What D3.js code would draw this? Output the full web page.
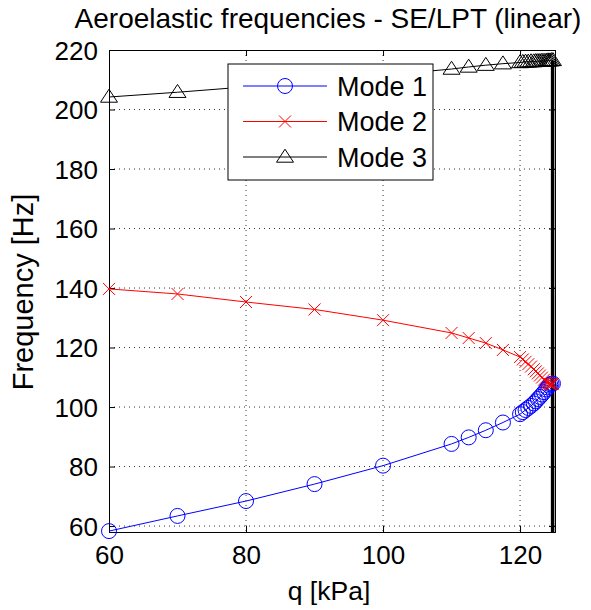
<!DOCTYPE html>
<html><head><meta charset="utf-8">
<script src="https://cdn.jsdelivr.net/npm/d3@7"></script>
<style>body{margin:0;background:#fff}svg text{font-family:"Liberation Sans",Arial,sans-serif}</style>
</head><body>
<svg id="c" width="591" height="610"></svg>
<script>
const title = "Aeroelastic frequencies - SE/LPT (linear)";
const xLabel = "q [kPa]";
const yLabel = "Frequency [Hz]";
const xTicks = [60, 80, 100, 120];
const yTicks = [60, 80, 100, 120, 140, 160, 180, 200, 220];
const seriesNames = ["Mode 1", "Mode 2", "Mode 3"];
const qValues = [60, 70, 80, 90, 100, 110, 112.5, 115, 117.5, 120, 120.4, 120.8, 121.2, 121.6, 122, 122.3, 122.6, 122.9, 123.2, 123.5, 123.8, 124, 124.2, 124.4, 124.6, 124.8];
const mode1 = [58.3, 63.4, 68.4, 74.1, 80.3, 87.6, 89.8, 92.2, 94.8, 97.6, 98.3, 99.0, 99.7, 100.4, 101.2, 101.9, 102.7, 103.4, 104.2, 105.0, 105.9, 106.6, 107.2, 107.6, 107.8, 107.9];
const mode2 = [139.7, 138.0, 135.3, 132.8, 129.2, 124.9, 123.2, 121.5, 119.2, 116.8, 116.0, 115.2, 114.4, 113.6, 112.7, 112.0, 111.3, 110.6, 109.9, 109.2, 108.6, 108.2, 107.9, 107.7, 107.7, 107.8];
const mode3 = [204.2, 205.8, 207.6, 209.5, 211.5, 213.6, 214.3, 214.9, 215.4, 215.8, 215.9, 216.0, 216.0, 216.1, 216.1, 216.2, 216.2, 216.2, 216.3, 216.3, 216.3, 216.4, 216.4, 216.4, 216.5, 216.5];
const flutterQ = [124.75, 124.75];
const flutterF = [216.3, 50];

const svg = d3.select("#c");
const L = 109, R = 555, T = 50, B = 532;
const x = d3.scaleLinear().domain([60, 125.1]).range([L, R]);
const y = d3.scaleLinear().domain([58, 220]).range([B, T]);
const FS = 26;

svg.append("clipPath").attr("id", "clip").append("rect")
  .attr("x", L).attr("y", T).attr("width", R - L).attr("height", B - T);

const grid = svg.append("g");
grid.selectAll(".gx").data(xTicks.filter(d => d > 60)).join("line")
  .attr("x1", d => x(d)).attr("x2", d => x(d)).attr("y1", T).attr("y2", B)
  .attr("stroke", "#333").attr("stroke-width", 1).attr("stroke-dasharray", "1,4");
grid.selectAll(".gy").data(yTicks.filter(d => d < 220)).join("line")
  .attr("y1", d => y(d)).attr("y2", d => y(d)).attr("x1", L).attr("x2", R)
  .attr("stroke", "#333").attr("stroke-width", 1).attr("stroke-dasharray", "1,4");

const ax = svg.append("g");
const xb = ax.append("g").attr("transform", `translate(0,${B})`)
  .call(d3.axisBottom(x).tickValues(xTicks).tickSize(-6).tickPadding(14).tickFormat(d3.format("d")));
const xt = ax.append("g").attr("transform", `translate(0,${T})`)
  .call(d3.axisTop(x).tickValues(xTicks).tickSize(-6).tickFormat(""));
const yl = ax.append("g").attr("transform", `translate(${L},0)`)
  .call(d3.axisLeft(y).tickValues(yTicks).tickSize(-6).tickPadding(11).tickFormat(d3.format("d")));
const yr = ax.append("g").attr("transform", `translate(${R},0)`)
  .call(d3.axisRight(y).tickValues(yTicks).tickSize(-6).tickFormat(""));
ax.selectAll(".domain").attr("stroke", "#000");
ax.selectAll(".tick line").attr("stroke", "#000");
ax.selectAll(".tick text").attr("font-size", FS).attr("fill", "#000")
  .attr("font-family", "Liberation Sans, Arial, sans-serif");
yl.selectAll(".tick text").attr("dy", "0.36em");

const colors = ["#0000ff", "#ff0000", "#000000"];
const all = [mode1, mode2, mode3];
const plot = svg.append("g").attr("clip-path", "url(#clip)");
const line = d3.line().x(d => x(d[0])).y(d => y(d[1]));

all.forEach((vals, i) => {
  const pts = qValues.map((q, j) => [q, vals[j]]);
  plot.append("path").datum(pts).attr("d", line).attr("fill", "none")
    .attr("stroke", colors[i]).attr("stroke-width", 1);
});

plot.append("path").datum(flutterQ.map((q, j) => [q, flutterF[j]])).attr("d", line)
  .attr("fill", "none").attr("stroke", "#000").attr("stroke-width", 3.5);

function marker(g, type, cx, cy, col) {
  if (type === 0) {
    g.append("circle").attr("cx", cx).attr("cy", cy).attr("r", 7.5)
      .attr("fill", "none").attr("stroke", col).attr("stroke-width", 1);
  } else if (type === 1) {
    const s = 6;
    g.append("path").attr("d", `M${cx - s},${cy - s}L${cx + s},${cy + s}M${cx - s},${cy + s}L${cx + s},${cy - s}`)
      .attr("stroke", col).attr("stroke-width", 1).attr("fill", "none");
  } else {
    const w = 8.5, h = 13;
    g.append("path").attr("d", `M${cx},${cy - h * 0.6}L${cx + w},${cy + h * 0.4}L${cx - w},${cy + h * 0.4}Z`)
      .attr("stroke", col).attr("stroke-width", 1).attr("fill", "none");
  }
}
const mk = svg.append("g");
all.forEach((vals, i) => {
  qValues.forEach((q, j) => marker(mk, i, x(q), y(vals[j]), colors[i]));
});

const lg = svg.append("g");
lg.append("rect").attr("x", 228).attr("y", 64).attr("width", 205).attr("height", 116)
  .attr("fill", "#fff").attr("stroke", "#000").attr("stroke-width", 1);
seriesNames.forEach((n, i) => {
  const yy = 86 + i * 35.5;
  lg.append("line").attr("x1", 243).attr("x2", 327).attr("y1", yy).attr("y2", yy)
    .attr("stroke", colors[i]).attr("stroke-width", 1);
  marker(lg, i, 285, yy, colors[i]);
  lg.append("text").attr("x", 337).attr("y", yy).attr("dy", "0.36em")
    .attr("font-size", 27).text(n);
});

svg.append("text").attr("x", 328).attr("y", 28).attr("text-anchor", "middle")
  .attr("font-size", 28).text(title);
svg.append("text").attr("x", 329).attr("y", 600).attr("text-anchor", "middle")
  .attr("font-size", 26.5).text(xLabel);
svg.append("text").attr("transform", `translate(33,292) rotate(-90)`)
  .attr("text-anchor", "middle").attr("font-size", 29).text(yLabel);
</script>
</body></html>
